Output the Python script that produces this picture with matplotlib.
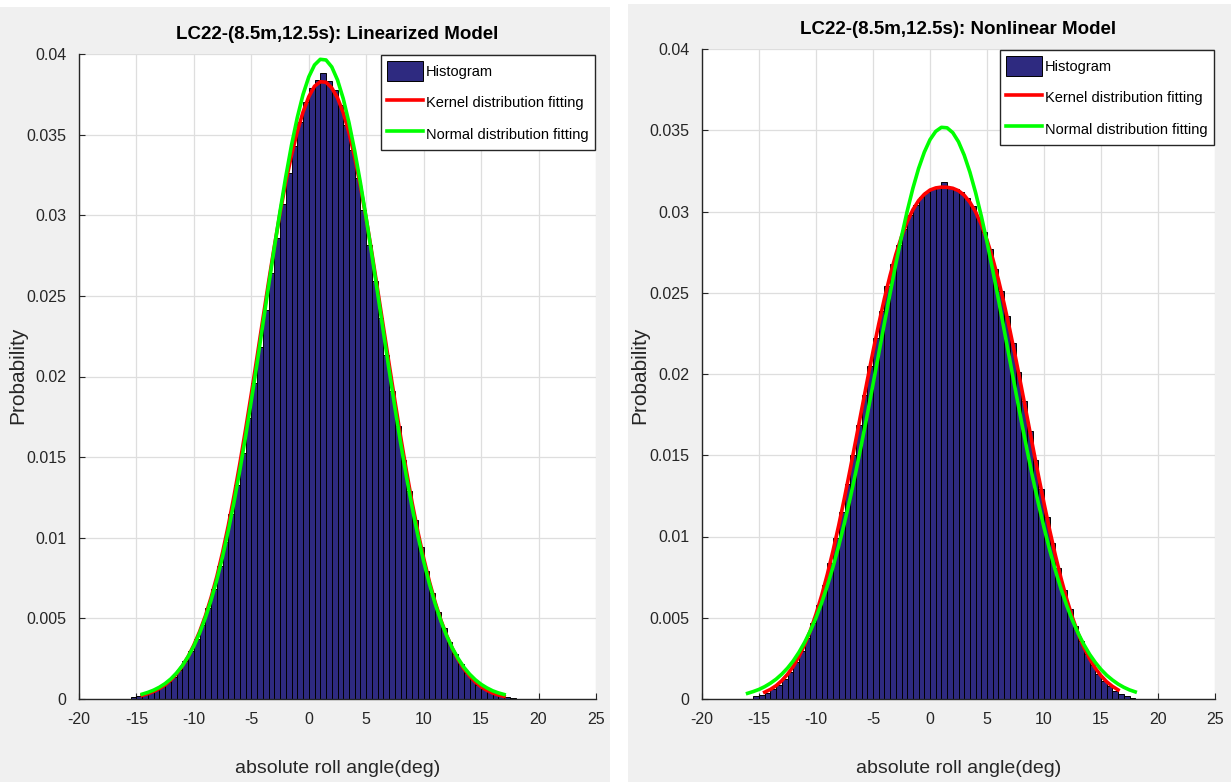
import matplotlib
matplotlib.use("Agg")
import matplotlib.pyplot as plt
from matplotlib.patches import Rectangle
import numpy as np

# ----- data -----
BIN_WIDTH = 0.5
HIST_START = -15.25   # centre of the first bin

# linearized model: bin probabilities
lin_hist = [0.00012, 0.00020, 0.00030, 0.00042, 0.00058, 0.00079, 0.00105, 0.00139, 0.00181, 0.00233,
            0.00296, 0.00370, 0.00460, 0.00565, 0.00685, 0.00822, 0.00975, 0.01145, 0.01330, 0.01528,
            0.01740, 0.01960, 0.02186, 0.02414, 0.02640, 0.02860, 0.03068, 0.03260, 0.03432, 0.03580,
            0.03700, 0.03788, 0.03840, 0.03880, 0.03835, 0.03776, 0.03684, 0.03560, 0.03405, 0.03228,
            0.03030, 0.02816, 0.02593, 0.02364, 0.02135, 0.01910, 0.01692, 0.01485, 0.01290, 0.01108,
            0.00942, 0.00792, 0.00660, 0.00542, 0.00440, 0.00352, 0.00278, 0.00216, 0.00164, 0.00122,
            0.00089, 0.00063, 0.00043, 0.00028, 0.00018, 0.00010, 0.00005]
# kernel fit, sampled every 0.5 deg from -14.5
lin_kernel_start = -14.5
lin_kernel = [0.00022, 0.00033, 0.00047, 0.00065, 0.00088, 0.00118, 0.00157, 0.00205, 0.00263, 0.00335,
              0.00418, 0.00515, 0.00630, 0.00760, 0.00910, 0.01078, 0.01262, 0.01460, 0.01672, 0.01893,
              0.02122, 0.02355, 0.02585, 0.02806, 0.03014, 0.03205, 0.03374, 0.03518, 0.03640, 0.03735,
              0.03800, 0.03828, 0.03825, 0.03790, 0.03728, 0.03636, 0.03512, 0.03358, 0.03178, 0.02978,
              0.02763, 0.02535, 0.02305, 0.02074, 0.01847, 0.01625, 0.01414, 0.01216, 0.01036, 0.00873,
              0.00728, 0.00600, 0.00489, 0.00394, 0.00313, 0.00244, 0.00188, 0.00142, 0.00105, 0.00076,
              0.00054, 0.00037, 0.00025, 0.00016]
# normal fit, sampled every 0.5 deg from -14.5
lin_normal_start = -14.5
lin_normal = [0.00030, 0.00041, 0.00055, 0.00073, 0.00096, 0.00125, 0.00162, 0.00207, 0.00263, 0.00329,
              0.00409, 0.00504, 0.00614, 0.00740, 0.00884, 0.01046, 0.01224, 0.01419, 0.01629, 0.01852,
              0.02083, 0.02322, 0.02561, 0.02798, 0.03025, 0.03240, 0.03436, 0.03606, 0.03749, 0.03858,
              0.03932, 0.03967, 0.03963, 0.03920, 0.03839, 0.03723, 0.03574, 0.03398, 0.03199, 0.02981,
              0.02751, 0.02513, 0.02274, 0.02037, 0.01806, 0.01586, 0.01379, 0.01187, 0.01012, 0.00854,
              0.00714, 0.00591, 0.00484, 0.00392, 0.00315, 0.00251, 0.00197, 0.00154, 0.00119, 0.00091,
              0.00069, 0.00051, 0.00038, 0.00028]

# nonlinear model
non_hist = [0.00016, 0.00026, 0.00040, 0.00060, 0.00088, 0.00124, 0.00169, 0.00225, 0.00293, 0.00373,
            0.00467, 0.00576, 0.00699, 0.00838, 0.00989, 0.01152, 0.01325, 0.01504, 0.01687, 0.01871,
            0.02051, 0.02224, 0.02388, 0.02539, 0.02675, 0.02794, 0.02895, 0.02978, 0.03043, 0.03090,
            0.03122, 0.03141, 0.03149, 0.03180, 0.03148, 0.03138, 0.03117, 0.03082, 0.03031, 0.02963,
            0.02876, 0.02772, 0.02649, 0.02510, 0.02356, 0.02190, 0.02015, 0.01834, 0.01651, 0.01468,
            0.01290, 0.01119, 0.00958, 0.00809, 0.00673, 0.00553, 0.00447, 0.00356, 0.00276, 0.00210,
            0.00156, 0.00112, 0.00078, 0.00052, 0.00033, 0.00018, 0.00008]
non_kernel_start = -14.5
non_kernel = [0.00042, 0.00059, 0.00082, 0.00113, 0.00152, 0.00200, 0.00261, 0.00334, 0.00420, 0.00522,
              0.00638, 0.00769, 0.00914, 0.01071, 0.01239, 0.01415, 0.01596, 0.01779, 0.01961, 0.02138,
              0.02306, 0.02464, 0.02607, 0.02735, 0.02845, 0.02937, 0.03011, 0.03067, 0.03106, 0.03132,
              0.03145, 0.03150, 0.03149, 0.03143, 0.03128, 0.03100, 0.03057, 0.02997, 0.02920, 0.02824,
              0.02711, 0.02580, 0.02433, 0.02273, 0.02103, 0.01925, 0.01743, 0.01560, 0.01379, 0.01205,
              0.01039, 0.00884, 0.00741, 0.00613, 0.00500, 0.00402, 0.00318, 0.00248, 0.00190, 0.00143,
              0.00106, 0.00078, 0.00056]
non_normal_start = -16.0
non_normal = [0.00035, 0.00046, 0.00059, 0.00076, 0.00097, 0.00122, 0.00153, 0.00190, 0.00234, 0.00287,
              0.00348, 0.00419, 0.00500, 0.00593, 0.00698, 0.00815, 0.00944, 0.01085, 0.01237, 0.01400,
              0.01572, 0.01751, 0.01936, 0.02124, 0.02312, 0.02497, 0.02676, 0.02845, 0.03002, 0.03143,
              0.03265, 0.03365, 0.03442, 0.03493, 0.03518, 0.03515, 0.03485, 0.03429, 0.03347, 0.03242,
              0.03116, 0.02972, 0.02812, 0.02640, 0.02460, 0.02274, 0.02086, 0.01899, 0.01715, 0.01537,
              0.01366, 0.01206, 0.01056, 0.00917, 0.00791, 0.00676, 0.00574, 0.00483, 0.00404, 0.00335,
              0.00275, 0.00225, 0.00182, 0.00146, 0.00117, 0.00092, 0.00072, 0.00056, 0.00044]

x_ticks = [-20, -15, -10, -5, 0, 5, 10, 15, 20, 25]
y_ticks = [0, 0.005, 0.01, 0.015, 0.02, 0.025, 0.03, 0.035, 0.04]
y_tick_labels = ["0", "0.005", "0.01", "0.015", "0.02", "0.025", "0.03", "0.035", "0.04"]

titles = ["LC22-(8.5m,12.5s): Linearized Model", "LC22-(8.5m,12.5s): Nonlinear Model"]
legend_labels = ["Histogram", "Kernel distribution fitting", "Normal distribution fitting"]

# ----- style -----
plt.rcParams["font.family"] = ["Liberation Sans", "DejaVu Sans"]
BAR_COLOR = "#2e2a80"
AX_COLOR = "#262626"
GRID_COLOR = "#dedede"
FIG_BG = "#f0f0f0"

W, H = 1231, 782


def samples(start, values):
    return start + BIN_WIDTH * np.arange(len(values))


def draw_panel(ax, title, hist, k_start, kernel, n_start, normal, ylab_x, ylab_y):
    centers = samples(HIST_START, hist)
    bars = ax.bar(centers, hist, width=BIN_WIDTH, color=BAR_COLOR,
                  edgecolor="black", linewidth=0.7, zorder=2)
    red, = ax.plot(samples(k_start, kernel), kernel, color="#ff0000", lw=2.6, zorder=3)
    green, = ax.plot(samples(n_start, normal), normal, color="#00ff00", lw=2.6, zorder=4)

    ax.set_xlim(-20, 25)
    ax.set_ylim(0, 0.04)
    ax.set_xticks(x_ticks)
    ax.set_xticklabels([str(t) for t in x_ticks])
    ax.set_yticks(y_ticks)
    ax.set_yticklabels(y_tick_labels)
    ax.grid(True, color=GRID_COLOR, lw=0.9, zorder=0)
    ax.set_axisbelow(True)

    for side in ("top", "right"):
        ax.spines[side].set_visible(False)
    for side in ("left", "bottom"):
        ax.spines[side].set_color(AX_COLOR)
        ax.spines[side].set_linewidth(1.0)
        ax.spines[side].set_zorder(5)
    ax.tick_params(direction="in", length=4, width=0.8, color=AX_COLOR,
                   labelcolor=AX_COLOR, labelsize=11.5, pad=9)

    ax.set_title(title, fontsize=13.5, fontweight="bold", pad=11)
    ax.set_xlabel("absolute roll angle(deg)", fontsize=14, color=AX_COLOR)
    ax.xaxis.set_label_coords(0.5, -0.107)
    ax.xaxis.label.set_va("center")
    ax.set_ylabel("Probability", fontsize=15, color=AX_COLOR)
    ax.yaxis.set_label_coords(ylab_x, ylab_y)
    ax.yaxis.label.set_va("center")

    leg = ax.legend([bars, red, green], legend_labels, loc="upper right",
                    bbox_to_anchor=(1.0, 1.0), borderaxespad=0.1, fontsize=10.5,
                    fancybox=False, framealpha=1, edgecolor=AX_COLOR,
                    handlelength=2.5, handleheight=1.7, handletextpad=0.2,
                    labelspacing=0.8, borderpad=0.4)
    leg.get_frame().set_linewidth(1.0)
    leg.set_zorder(10)


fig = plt.figure(figsize=(W / 100, H / 100), dpi=100, facecolor="white")

# grey figure panels behind each plot
fig.add_artist(Rectangle((0, 0), 610 / W, (H - 7) / H, transform=fig.transFigure,
                         facecolor=FIG_BG, edgecolor="none", zorder=0))
fig.add_artist(Rectangle((628 / W, 0), (W - 628) / W, (H - 4) / H, transform=fig.transFigure,
                         facecolor=FIG_BG, edgecolor="none", zorder=0))

ax1 = fig.add_axes([79 / W, (H - 699) / H, 517 / W, 645 / H])
ax2 = fig.add_axes([702 / W, (H - 699) / H, 513 / W, 650 / H])

draw_panel(ax1, titles[0], lin_hist, lin_kernel_start, lin_kernel,
           lin_normal_start, lin_normal, -0.118, 0.502)
draw_panel(ax2, titles[1], non_hist, non_kernel_start, non_kernel,
           non_normal_start, non_normal, -0.121, 0.498)

fig.savefig("out.png", dpi=100, facecolor=fig.get_facecolor())
